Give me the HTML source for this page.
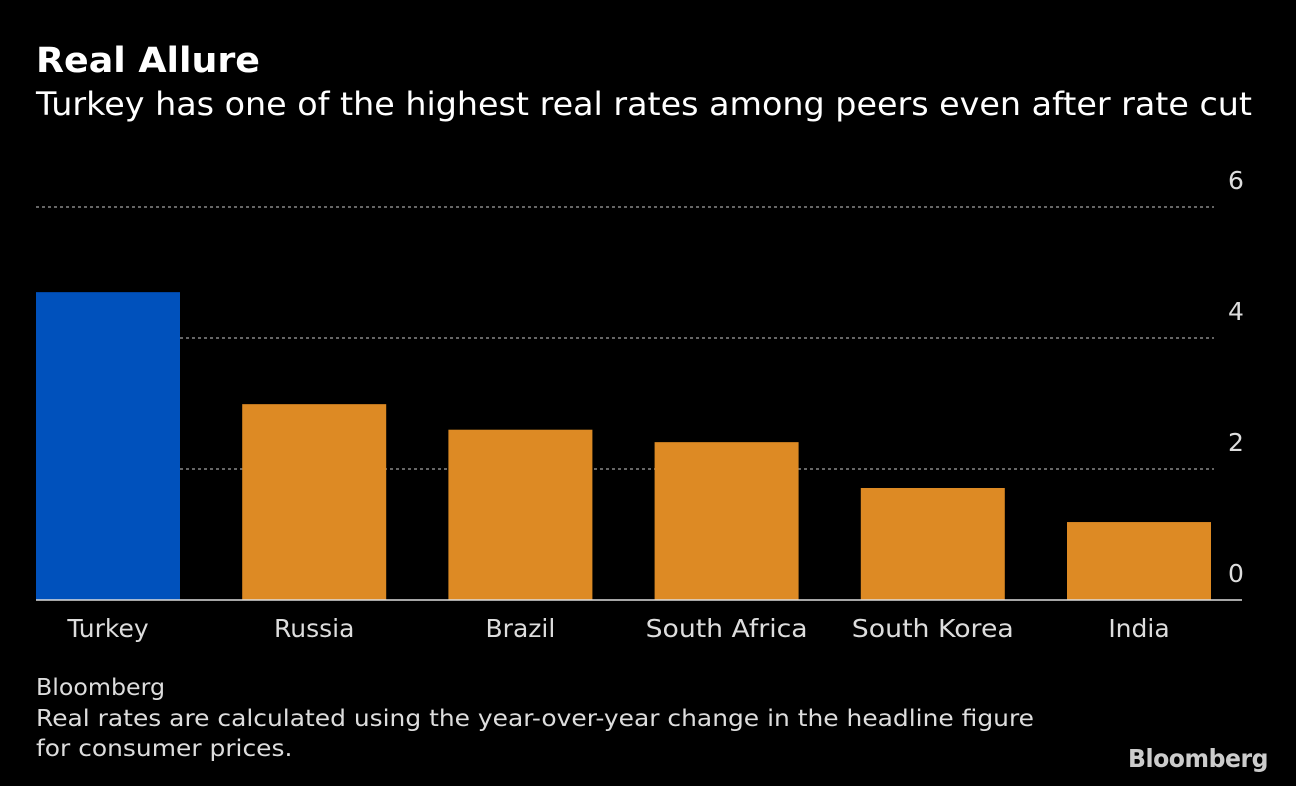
<!DOCTYPE html>
<html><head><meta charset="utf-8"><style>
html,body{margin:0;padding:0;background:#000;}
body{width:1296px;height:786px;overflow:hidden;position:relative;font-family:"DejaVu Sans","Liberation Sans",sans-serif;color:#fff;}
.t{position:absolute;white-space:nowrap;transform-origin:0 0;}
</style></head><body>
<div class="t" id="title" style="left:36px;top:41px;font-size:35px;font-weight:bold;">Real Allure</div>
<div class="t" id="sub" style="left:36px;top:85px;font-size:32px;">Turkey has one of the highest real rates among peers even after rate cut</div>
<svg id="chart" width="1296" height="786" style="position:absolute;left:0;top:0;"></svg>
<div class="t" id="src" style="left:36px;top:675px;font-size:23px;color:#ddd;">Bloomberg</div>
<div class="t" id="fn" style="left:36px;top:704px;font-size:23px;color:#ddd;line-height:30px;"><span id="fn1">Real rates are calculated using the year-over-year change in the headline figure</span><br>for consumer prices.</div>
<div class="t" id="logo" style="left:1128px;top:744px;font-size:25px;font-weight:bold;color:#ccc;letter-spacing:-0.5px;">Bloomberg</div>
<script>
const categories=["Turkey","Russia","Brazil","South Africa","South Korea","India"];
const values=[4.7,2.99,2.6,2.41,1.71,1.19];
const ticks=[0,2,4,6];
const colors=["#0051bc","#dd8a24","#dd8a24","#dd8a24","#dd8a24","#dd8a24"];
const NS="http://www.w3.org/2000/svg";
const svg=document.getElementById('chart');
const y0=600,pxPer=65.5,x0=36,step=206.2,bw=144;
const yS=v=>y0-v*pxPer;
function mk(t,a){const e=document.createElementNS(NS,t);for(const k in a)e.setAttribute(k,a[k]);svg.appendChild(e);return e;}
ticks.forEach(t=>{
  if(t>0){const l=mk('line',{x1:36,x2:1214,y1:yS(t),y2:yS(t),stroke:'#888','stroke-width':1.5,'stroke-dasharray':'3,3'});
  
  }
  const tx=mk('text',{x:1236,y:yS(t)-18,'text-anchor':'middle',fill:'#ddd','font-size':25,'font-family':'DejaVu Sans, sans-serif'});
  tx.textContent=t;
  
  
});
categories.forEach((c,i)=>{
  const x=x0+i*step;
  const r=mk('rect',{x:x,y:yS(values[i]),width:bw,height:y0-yS(values[i]),fill:colors[i]});
  
  
  const tx=mk('text',{x:x+bw/2,y:637,'text-anchor':'middle',fill:'#ddd','font-size':25,'font-family':'DejaVu Sans, sans-serif'});
  tx.textContent=c;
  
  
  if(c==="South Africa"||c==="South Korea"){tx.setAttribute('textLength',162);tx.setAttribute('lengthAdjust','spacingAndGlyphs');}
});
const b=mk('line',{x1:36,x2:1242,y1:y0,y2:y0,stroke:'#ddd','stroke-width':1.5});


function fit(id,target,measId){
  const el=document.getElementById(id);
  const m=document.getElementById(measId||id).getBoundingClientRect().width;
  if(m>0) el.style.transform='scaleX('+(target/m)+')';
}
fit('title',224);fit('sub',1216);fit('src',129);fit('fn',998,'fn1');fit('logo',140);
</script>
</body></html>
